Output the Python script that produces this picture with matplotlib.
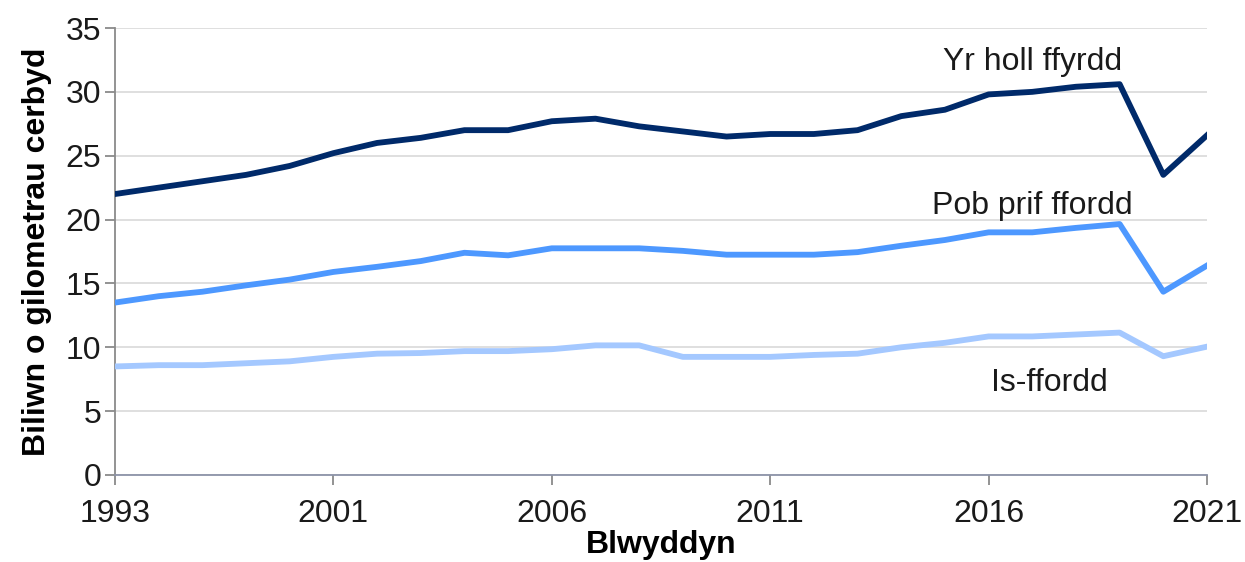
import matplotlib
matplotlib.use("Agg")
import matplotlib.pyplot as plt

years = ["1993", "1995", "1997", "1999", "2000", "2001", "2002", "2003", "2004", "2005",
         "2006", "2007", "2008", "2009", "2010", "2011", "2012", "2013", "2014", "2015",
         "2016", "2017", "2018", "2019", "2020", "2021"]
all_roads = [22.0, 22.5, 23.0, 23.5, 24.2, 25.2, 26.0, 26.4, 27.0, 27.0,
             27.7, 27.9, 27.3, 26.9, 26.5, 26.7, 26.7, 27.0, 28.1, 28.6,
             29.8, 30.0, 30.4, 30.6, 23.5, 26.6]
major_roads = [13.5, 14.0, 14.35, 14.85, 15.3, 15.9, 16.3, 16.75, 17.4, 17.2,
               17.75, 17.75, 17.75, 17.55, 17.25, 17.25, 17.25, 17.45, 17.95, 18.4,
               19.0, 19.0, 19.35, 19.65, 14.35, 16.4]
minor_roads = [8.5, 8.6, 8.6, 8.75, 8.9, 9.25, 9.5, 9.55, 9.7, 9.7,
               9.85, 10.15, 10.15, 9.25, 9.25, 9.25, 9.4, 9.5, 10.0, 10.35,
               10.85, 10.85, 11.0, 11.15, 9.3, 10.05]
series_labels = ["Yr holl ffyrdd", "Pob prif ffordd", "Is-ffordd"]
y_ticks = [0, 5, 10, 15, 20, 25, 30, 35]

plt.rcParams['font.family'] = ['Liberation Sans', 'DejaVu Sans']

fig = plt.figure(figsize=(12.45, 5.62), dpi=100)
ax = fig.add_axes([115/1245, 87/562, (1207-115)/1245, (475-28)/562])

x = list(range(len(years)))
ax.plot(x, all_roads, color="#002a6a", lw=4.2, solid_joinstyle="round", zorder=3)
ax.plot(x, major_roads, color="#4d98ff", lw=4.2, solid_joinstyle="round", zorder=3)
ax.plot(x, minor_roads, color="#a4c8ff", lw=4.2, solid_joinstyle="round", zorder=3)

ax.set_xlim(0, len(years) - 1)
ax.set_ylim(0, 35)
ax.set_yticks(y_ticks)
ax.set_yticklabels([str(t) for t in y_ticks])
tick_idx = [0, 5, 10, 15, 20, 25]
ax.set_xticks(tick_idx)
ax.set_xticklabels([years[i] for i in tick_idx])

ax.grid(axis="y", color="#dcdcdc", lw=1.3, zorder=0)
ax.set_axisbelow(True)
for s in ["top", "right"]:
    ax.spines[s].set_visible(False)
for s in ["left", "bottom"]:
    ax.spines[s].set_color("#8a8a8a")
    ax.spines[s].set_linewidth(1.3)
ax.spines["bottom"].set_color("#8c93a8")
ax.tick_params(axis="both", colors="#8a8a8a", length=7, width=1.3, labelsize=23,
               labelcolor="#1a1a1a")
ax.tick_params(axis="y", pad=3)
ax.tick_params(axis="x", pad=10)

ax.set_ylabel("Biliwn o gilometrau cerbyd", fontsize=23, fontweight="bold", labelpad=10)
ax.set_xlabel("Blwyddyn", fontsize=23, fontweight="bold", labelpad=1)

ax.text(21.0, 32.3, series_labels[0], fontsize=23, ha="center", va="center", color="#1a1a1a")
ax.text(21.0, 21.1, series_labels[1], fontsize=23, ha="center", va="center", color="#1a1a1a")
ax.text(21.4, 7.2, series_labels[2], fontsize=23, ha="center", va="center", color="#1a1a1a")

fig.savefig("out.png", dpi=100)
